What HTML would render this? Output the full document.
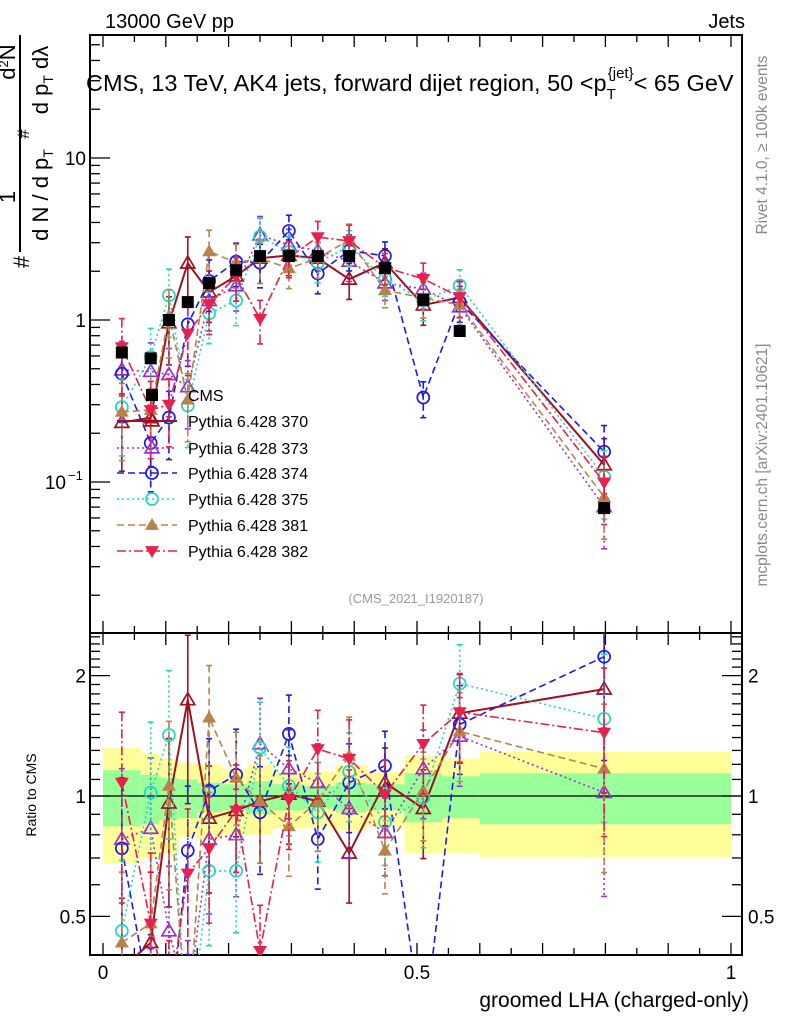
<!DOCTYPE html>
<html><head><meta charset="utf-8"><style>
html,body{margin:0;padding:0;background:#fff;width:786px;height:1024px;overflow:hidden}
svg{display:block;font-family:"Liberation Sans",sans-serif}
</style></head><body>
<svg id="chart" width="786" height="1024" viewBox="0 0 786 1024" xmlns="http://www.w3.org/2000/svg">
<defs>
<clipPath id="ctop"><rect x="90" y="35" width="652" height="598"/></clipPath>
<clipPath id="crat"><rect x="90" y="633" width="652" height="322"/></clipPath>
</defs>
<g id="bands" clip-path="url(#crat)"></g>
<g id="axes"></g>
<g id="series-top" clip-path="url(#ctop)"></g>
<g id="series-rat" clip-path="url(#crat)"></g>
<g id="legend"></g>
<text x="105" y="28" font-size="20">13000 GeV pp</text>
<text x="745" y="28" font-size="20" text-anchor="end">Jets</text>
<text x="86" y="91" font-size="23.5">CMS, 13 TeV, AK4 jets, forward dijet region, 50 &lt;p<tspan font-size="15" dy="8">T</tspan><tspan font-size="15" dy="-21" dx="-8">{jet}</tspan><tspan dy="13">&lt; 65 GeV</tspan></text>
<text x="416" y="603" font-size="13" fill="#999" text-anchor="middle">(CMS_2021_I1920187)</text>
<text transform="translate(767,145) rotate(-90)" font-size="15.5" fill="#888" text-anchor="middle">Rivet 4.1.0, ≥ 100k events</text>
<text transform="translate(767,465) rotate(-90)" font-size="15.5" fill="#888" text-anchor="middle">mcplots.cern.ch [arXiv:2401.10621]</text>
<text transform="translate(36,795) rotate(-90)" font-size="14" text-anchor="middle">Ratio to CMS</text>
<text x="749" y="1007" font-size="21" text-anchor="end">groomed LHA (charged-only)</text>
<g font-size="22">
<line x1="20" y1="35" x2="20" y2="252" stroke="#000" stroke-width="2"/>
<text transform="translate(29,262) rotate(-90)" text-anchor="middle">#</text>
<text transform="translate(15,197) rotate(-90)" text-anchor="middle">1</text>
<text transform="translate(48,195) rotate(-90)" text-anchor="middle">d N / d p<tspan font-size="14" dy="5">T</tspan></text>
<text transform="translate(29,134) rotate(-90)" text-anchor="middle" font-size="17">#</text>
<text transform="translate(15,62) rotate(-90)" text-anchor="middle">d<tspan font-size="13" dy="-7">2</tspan><tspan dy="7">N</tspan></text>
<text transform="translate(48,80) rotate(-90)" text-anchor="middle">d p<tspan font-size="14" dy="5">T</tspan><tspan dy="-5">  dλ</tspan></text>
</g>
</svg>
<script>
const xVals=[0.03,0.076,0.105,0.135,0.169,0.212,0.25,0.296,0.342,0.392,0.449,0.51,0.568,0.798];
const binEdges=[0,0.06,0.09,0.12,0.15,0.19,0.23,0.27,0.32,0.37,0.42,0.48,0.54,0.6,1.0];
const cmsVals=[0.63,0.58,1.0,1.29,1.69,2.03,2.48,2.48,2.48,2.48,2.09,1.33,0.855,0.069];
const bandYelUp=[1.32,1.28,1.24,1.21,1.2,1.17,1.2,1.16,1.15,1.19,1.15,1.26,1.24,1.29];
const bandYelDn=[0.68,0.70,0.72,0.79,0.78,0.8,0.8,0.83,0.83,0.82,0.84,0.72,0.72,0.70];
const bandGrnUp=[1.16,1.13,1.11,1.10,1.08,1.07,1.09,1.07,1.06,1.08,1.07,1.14,1.12,1.14];
const bandGrnDn=[0.84,0.85,0.87,0.88,0.91,0.92,0.9,0.92,0.93,0.91,0.92,0.86,0.88,0.85];
const ratio370=[0.37,0.43,0.96,1.74,0.88,0.92,0.97,1.01,0.97,0.72,1.08,0.93,1.61,1.85];
const ratio373=[0.78,0.83,0.46,0.3,0.78,0.8,1.35,1.17,1.08,0.93,0.81,1.17,1.41,1.02];
const ratio374=[0.74,0.3,0.25,0.73,1.03,1.13,0.91,1.43,0.78,1.08,1.19,0.25,1.51,2.23];
const ratio375=[0.46,1.02,1.42,0.23,0.65,0.65,1.32,1.06,0.91,1.15,0.86,0.99,1.91,1.56];
const ratio381=[0.43,0.48,1.06,0.25,1.57,1.11,0.97,0.84,0.97,1.26,0.73,1.03,1.45,1.17];
const ratio382=[1.08,0.48,0.3,0.64,0.74,0.92,0.41,0.98,1.31,1.24,1.01,1.35,1.62,1.44];
const errRel=[0.5,0.5,0.45,0.45,0.35,0.3,0.3,0.25,0.25,0.25,0.22,0.25,0.25,0.45];
const legendLabels=["CMS","Pythia 6.428 370","Pythia 6.428 373","Pythia 6.428 374","Pythia 6.428 375","Pythia 6.428 381","Pythia 6.428 382"];
const xTickLabels=["0","0.5","1"];
const ratioTickLabels=["2","1","0.5"];

const NS="http://www.w3.org/2000/svg";
const X=v=>103+628*v;
const YT=v=>320-162*Math.log10(v);
const YR=v=>796-400*Math.log10(v);
function mk(tag,attrs,parent){const e=document.createElementNS(NS,tag);for(const k in attrs)e.setAttribute(k,attrs[k]);parent.appendChild(e);return e;}
const gB=document.getElementById('bands'),gA=document.getElementById('axes'),gT=document.getElementById('series-top'),gR=document.getElementById('series-rat'),gL=document.getElementById('legend');

for(let i=0;i<binEdges.length-1;i++){
  const x0=X(binEdges[i]),x1=X(binEdges[i+1]);
  let r=mk('rect',{x:x0,y:YR(bandYelUp[i]),width:x1-x0,height:YR(bandYelDn[i])-YR(bandYelUp[i]),fill:'#ffff99'},gB);
  
  
  r=mk('rect',{x:x0,y:YR(bandGrnUp[i]),width:x1-x0,height:YR(bandGrnDn[i])-YR(bandGrnUp[i]),fill:'#99ff99'},gB);
  
  
}
let ln=mk('line',{x1:90,x2:742,y1:YR(1),y2:YR(1),stroke:'#000','stroke-width':1.3},gB);



let f=mk('rect',{x:90,y:35,width:652,height:598,fill:'none',stroke:'#000','stroke-width':2},gA);


f=mk('rect',{x:90,y:633,width:652,height:322,fill:'none',stroke:'#000','stroke-width':2},gA);


for(let k=0;k<=20;k++){
  const v=k*0.05,x=X(v),L=(k%2==0)?12:7;
  [[35,1],[633,-1],[633,1],[955,-1]].forEach(([y,d])=>{mk('line',{x1:x,x2:x,y1:y,y2:y+d*L,stroke:'#000','stroke-width':1.3},gA);});
}
xTickLabels.forEach((t,i)=>{const e=mk('text',{x:X(i*0.5),y:979,'font-size':19,'text-anchor':'middle'},gA);e.textContent=t;
  
  });
for(let d=-2;d<=1;d++){for(let m=1;m<=9;m++){const v=m*Math.pow(10,d),y=YT(v);if(y<35||y>633)continue;const L=m==1?20:10;
  mk('line',{x1:90,x2:90+L,y1:y,y2:y,stroke:'#000','stroke-width':1.3},gA);}}
[[10,'10'],[1,'1']].forEach(([v,t])=>{const e=mk('text',{x:86,y:YT(v)+7,'font-size':19,'text-anchor':'end'},gA);e.textContent=t;
  
  });
{const e=mk('text',{x:66,y:YT(0.1)+7,'font-size':19,'text-anchor':'end'},gA);e.textContent='10';
 
 
 const s=mk('text',{x:68,y:YT(0.1)-2,'font-size':13},gA);s.textContent='−1';}
const rt=[0.4,0.5,0.6,0.7,0.8,0.9,1,1.1,1.2,1.3,1.4,1.5,1.6,1.7,1.8,1.9,2,2.1,2.2,2.3,2.4,2.5];
rt.forEach(v=>{const y=YR(v);if(y<633||y>955)return;const L=(v==0.5||v==1||v==2)?20:10;
  mk('line',{x1:90,x2:90+L,y1:y,y2:y,stroke:'#000','stroke-width':1.3},gA);
  mk('line',{x1:742,x2:742-L,y1:y,y2:y,stroke:'#000','stroke-width':1.3},gA);});
[2,1,0.5].forEach((v,i)=>{let e=mk('text',{x:86,y:YR(v)+7,'font-size':19,'text-anchor':'end'},gA);e.textContent=ratioTickLabels[i];
  
  
  e=mk('text',{x:748,y:YR(v)+7,'font-size':19},gA);e.textContent=ratioTickLabels[i];
  
  });

function marker(type,x,y,col,g){
  const s=7;
  if(type=='sq')return mk('rect',{x:x-6,y:y-6,width:12,height:12,fill:'#000'},g);
  if(type=='oc')return mk('circle',{cx:x,cy:y,r:6,fill:'none',stroke:col,'stroke-width':1.7},g);
  if(type=='ot')return mk('polygon',{points:`${x},${y-s} ${x-s},${y+s*0.7} ${x+s},${y+s*0.7}`,fill:'none',stroke:col,'stroke-width':1.7},g);
  if(type=='ft')return mk('polygon',{points:`${x},${y-s} ${x-s},${y+s*0.7} ${x+s},${y+s*0.7}`,fill:col},g);
  if(type=='fd')return mk('polygon',{points:`${x},${y+s} ${x-s},${y-s*0.7} ${x+s},${y-s*0.7}`,fill:col},g);
}
const series=[
 {name:'pythia-370',r:ratio370,col:'#a01020',dash:'',m:'ot',w:2},
 {name:'pythia-373',r:ratio373,col:'#9a30d0',dash:'2,3',m:'ot',w:1.6},
 {name:'pythia-374',r:ratio374,col:'#1a1aee',dash:'7,4',m:'oc',w:1.6},
 {name:'pythia-375',r:ratio375,col:'#20d8c0',dash:'2,3',m:'oc',w:1.6},
 {name:'pythia-381',r:ratio381,col:'#b8824c',dash:'7,4',m:'ft',w:1.6},
 {name:'pythia-382',r:ratio382,col:'#e8204c',dash:'9,3,2,3',m:'fd',w:1.6}];
series.forEach(s=>{
  [[gT,i=>YT(cmsVals[i]*s.r[i])],[gR,i=>YR(s.r[i])]].forEach(([g,yf],pi)=>{
    const grp=mk('g',{},g);
    
    
    const pts=xVals.map((x,i)=>X(x)+','+yf(i)).join(' ');
    mk('polyline',{points:pts,fill:'none',stroke:s.col,'stroke-width':s.w,'stroke-dasharray':s.dash},grp);
    xVals.forEach((x,i)=>{
      const base=pi?s.r[i]:cmsVals[i]*s.r[i];
      const up=base*(1+errRel[i]),dn=Math.max(base*(1-errRel[i]),1e-4);
      const Yf=pi?YR:YT;
      mk('line',{x1:X(x),x2:X(x),y1:Yf(up),y2:Yf(dn),stroke:s.col,'stroke-width':1.6,'stroke-dasharray':s.dash},grp);
      mk('line',{x1:X(x)-3,x2:X(x)+3,y1:Yf(up),y2:Yf(up),stroke:s.col,'stroke-width':1.6},grp);
      mk('line',{x1:X(x)-3,x2:X(x)+3,y1:Yf(dn),y2:Yf(dn),stroke:s.col,'stroke-width':1.6},grp);
      const mm=marker(s.m,X(x),yf(i),s.col,grp);
      
      
    });
  });
});
cmsVals.forEach((v,i)=>{
  const m=marker('sq',X(xVals[i]),YT(v),'#000',gT);
  
  
});
const legY=[395,421,448,473,499,525,551];
legendLabels.forEach((t,i)=>{
  const g=mk('g',{},gL);
  
  
  const y=legY[i];
  if(i==0){marker('sq',152,y,'#000',g);}
  else{const s=series[i-1];
    mk('line',{x1:117,x2:177,y1:y,y2:y,stroke:s.col,'stroke-width':s.w,'stroke-dasharray':s.dash},g);
    marker(s.m,152,y,s.col,g);}
  const e=mk('text',{x:188,y:y+6,'font-size':16},g);e.textContent=t;
});
</script>
</body></html>
